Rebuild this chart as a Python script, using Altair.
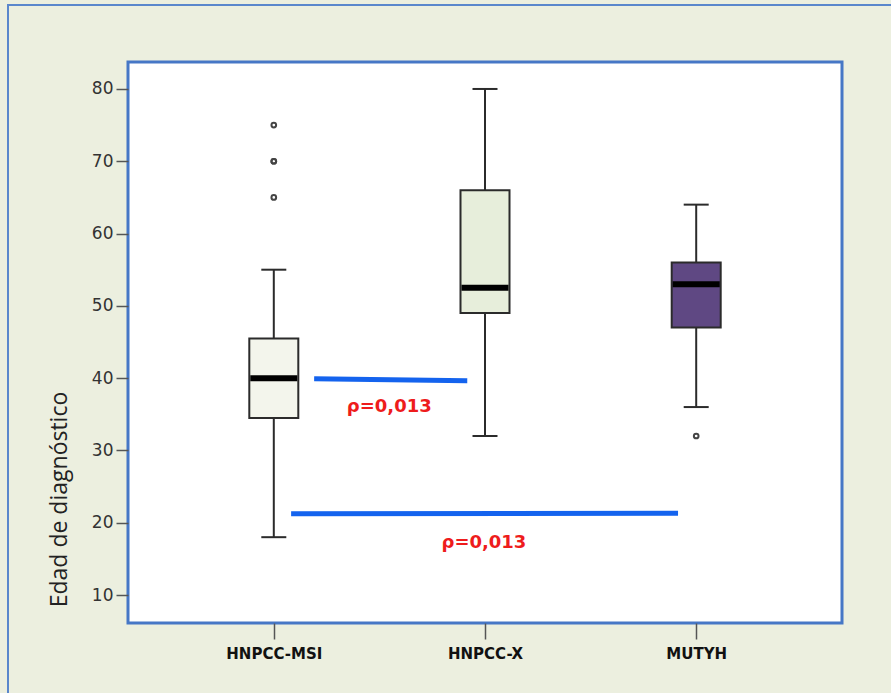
import altair as alt
import pandas as pd

# Box-plot summaries of age at diagnosis per group
groups = ["HNPCC-MSI", "HNPCC-X", "MUTYH"]
positions = [1, 2, 3]
whisker_low = [18, 32, 36]
q1 = [34.5, 49, 47]
median = [40, 52.5, 53]
q3 = [45.5, 66, 56]
whisker_high = [55, 80, 64]
box_fill = ["#f3f5ec", "#e7eedb", "#5f4883"]

# Outlying observations
outlier_pos = [1, 1, 1, 1, 3]
outlier_age = [65, 70, 70, 75, 32]

# Comparison brackets and their p-values
bracket_x = [1.191, 1.082]
bracket_x2 = [1.916, 2.914]
bracket_y = [39.9, 21.25]
bracket_y2 = [39.65, 21.3]
pval_x = [1.547, 1.995]
pval_y = [36.0, 17.2]
pval_text = ["ρ=0,013", "ρ=0,013"]

boxes = pd.DataFrame({
    "grupo": groups, "pos": positions, "lo": whisker_low, "q1": q1,
    "med": median, "q3": q3, "hi": whisker_high, "fill": box_fill,
})
outliers = pd.DataFrame({"pos": outlier_pos, "edad": outlier_age})
brackets = pd.DataFrame({"x": bracket_x, "x2": bracket_x2, "y": bracket_y, "y2": bracket_y2})
pvals = pd.DataFrame({"x": pval_x, "y": pval_y, "t": pval_text})

x_scale = alt.Scale(domain=[1 / 3, 11 / 3], nice=False, zero=False)
y_scale = alt.Scale(domain=[6.13, 83.73], nice=False, zero=False)

x_axis = alt.Axis(
    values=positions, title=None, grid=False, domain=False,
    labelExpr="datum.value == 1 ? 'HNPCC-MSI' : datum.value == 2 ? 'HNPCC-X' : 'MUTYH'",
    labelFont="DejaVu Sans", labelFontWeight="bold", labelFontSize=15,
    labelColor="#111111", tickColor="#555555", tickSize=16, tickWidth=1.5,
    labelPadding=7,
)
y_axis = alt.Axis(
    values=[10, 20, 30, 40, 50, 60, 70, 80], title="Edad de diagnóstico",
    grid=False, domain=False, labelFont="DejaVu Sans", labelFontSize=17,
    labelColor="#333333", tickColor="#555555", tickSize=12, tickWidth=1.5,
    labelPadding=3, titleFont="Open Sans", titleFontSize=23,
    titleFontWeight="normal", titleColor="#222222", titleAngle=270,
    titleX=-69, titleY=437, titleAlign="center", titleBaseline="middle",
)

base = alt.Chart(boxes)
X = alt.X("pos:Q", scale=x_scale, axis=x_axis)

whiskers = base.mark_rule(color="#2b2b2b", strokeWidth=2).encode(
    x=X, y=alt.Y("lo:Q", scale=y_scale, axis=y_axis), y2="hi:Q"
)
caps_low = base.mark_tick(
    orient="horizontal", size=25, thickness=2, color="#2b2b2b", opacity=1
).encode(x=X, y=alt.Y("lo:Q", scale=y_scale))
caps_high = base.mark_tick(
    orient="horizontal", size=25, thickness=2, color="#2b2b2b", opacity=1
).encode(x=X, y=alt.Y("hi:Q", scale=y_scale))
box = base.mark_bar(size=49, stroke="#2b2b2b", strokeWidth=2, opacity=1).encode(
    x=X, y=alt.Y("q1:Q", scale=y_scale), y2="q3:Q",
    fill=alt.Fill("fill:N", scale=None),
)
med = base.mark_tick(
    orient="horizontal", size=47, thickness=6, color="#000000", opacity=1
).encode(x=X, y=alt.Y("med:Q", scale=y_scale))
points = alt.Chart(outliers).mark_point(
    shape="circle", size=22, filled=False, stroke="#444444", strokeWidth=2, opacity=1
).encode(x=alt.X("pos:Q", scale=x_scale), y=alt.Y("edad:Q", scale=y_scale))

lines = alt.Chart(brackets).mark_rule(color="#1463ee", strokeWidth=5).encode(
    x=alt.X("x:Q", scale=x_scale), x2="x2:Q",
    y=alt.Y("y:Q", scale=y_scale), y2="y2:Q",
)
labels = alt.Chart(pvals).mark_text(
    font="DejaVu Sans", fontWeight="bold", fontSize=18, color="#ee1c1c",
    align="center", baseline="middle",
).encode(x=alt.X("x:Q", scale=x_scale), y=alt.Y("y:Q", scale=y_scale), text="t:N")

# Outer frame around the whole figure
frame = alt.Chart(pd.DataFrame({"k": [0]})).mark_rect(
    fillOpacity=0, stroke="#5a87cc", strokeWidth=2
).encode(
    x=alt.value(-120), x2=alt.value(780), y=alt.value(-57), y2=alt.value(700)
)

chart = alt.layer(
    frame, whiskers, caps_low, caps_high, box, med, points, lines, labels
).properties(
    width=714, height=561,
    autosize=alt.AutoSizeParams(type="none"),
    padding={"left": 128, "top": 62, "right": 49, "bottom": 70},
    background="#ecefdf",
).configure_view(
    fill="#ffffff", stroke="#4677c6", strokeWidth=3
)

chart.save("out.html", embed_options={"renderer": "svg", "actions": False})
